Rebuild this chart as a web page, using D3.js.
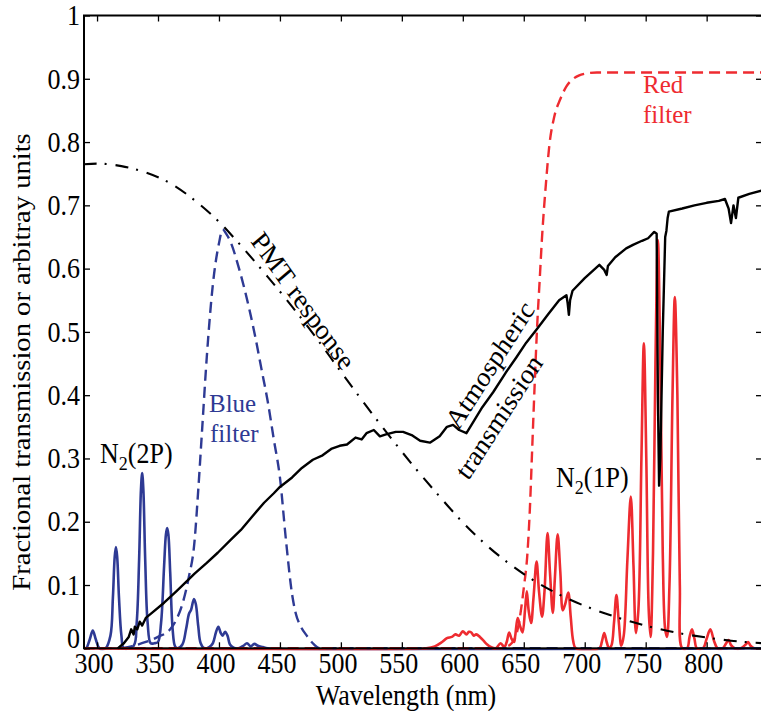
<!DOCTYPE html>
<html><head><meta charset="utf-8">
<script src="https://cdn.jsdelivr.net/npm/d3@7"></script>
<style>body{margin:0;background:#fff}svg{display:block}text{font-family:"Liberation Serif","Times New Roman",serif}</style>
</head><body>
<script>
// ---------- data ----------
const xTicks = [300,350,400,450,500,550,600,650,700,750,800];
const yTicks = [0,0.1,0.2,0.3,0.4,0.5,0.6,0.7,0.8,0.9,1];
const yTickLabels = ["0","0.1","0.2","0.3","0.4","0.5","0.6","0.7","0.8","0.9","1"];

const pmtNm  = [289,300,320,340,360,380,400,420,440,460,480,500,520,540,560,580,600,620,640,660,680,700,720,740,760,780,800,820,846];
const pmtVal = [0.765,0.766,0.762,0.752,0.735,0.708,0.674,0.632,0.587,0.54,0.49,0.437,0.385,0.335,0.287,0.242,0.199,0.162,0.131,0.105,0.084,0.067,0.053,0.041,0.031,0.023,0.017,0.012,0.008];

const blueFilterNm  = [320,330,340,350,360,365,370,375,380,383,386,390,395,400,403,406,410,415,420,425,430,435,440,445,450,455,460,463,467,472,477,483,500,846];
const blueFilterVal = [0,0.004,0.01,0.018,0.03,0.045,0.07,0.11,0.17,0.25,0.34,0.46,0.575,0.64,0.662,0.655,0.64,0.61,0.575,0.535,0.49,0.44,0.39,0.33,0.27,0.17,0.085,0.055,0.035,0.02,0.008,0,0,0];

const redFilterNm  = [289,630,635,640,645,650,653,655,657,659,661,663,665,668,671,675,680,685,690,695,700,710,846];
const redFilterVal = [0,0,0.002,0.008,0.03,0.095,0.15,0.22,0.32,0.42,0.51,0.58,0.65,0.73,0.795,0.84,0.868,0.888,0.899,0.905,0.908,0.91,0.91];

const atmNm  = [317,322,326,328,330,331,333,335,337,340,345,355,365,372,380,390,399,410,418,428,437,445,450,460,468,477,485,492,499,505,512,517,521,527,532,537,545,551,558,565,573,581,587,592,597,603,610,616,625,635,644,652,661,670,679,685,686,687,688,690,700,712,716,718,719,725,734,740,747,752,757,759,760,761,762,764,766,767,768,769,780,790,800,810,815,818,820,822,824,826,835,846];
const atmVal = [0,0.008,0.018,0.03,0.022,0.034,0.03,0.042,0.036,0.048,0.056,0.072,0.09,0.103,0.118,0.135,0.151,0.172,0.187,0.21,0.23,0.245,0.255,0.27,0.285,0.298,0.305,0.315,0.32,0.322,0.333,0.33,0.34,0.345,0.335,0.338,0.342,0.342,0.337,0.328,0.325,0.335,0.35,0.353,0.345,0.34,0.362,0.381,0.405,0.435,0.46,0.483,0.505,0.528,0.55,0.558,0.545,0.527,0.55,0.565,0.585,0.606,0.598,0.59,0.604,0.618,0.632,0.638,0.644,0.648,0.658,0.655,0.4,0.257,0.3,0.5,0.65,0.66,0.68,0.69,0.695,0.7,0.704,0.707,0.71,0.695,0.672,0.7,0.68,0.712,0.718,0.724];

const n2pNm  = [289,291,294,296.5,299,302,307,311,313,314.5,315.5,316.5,318,320,322,330,332.5,334.5,336,337,338,339.5,341.5,344,347,350,352.5,355,356.5,357.5,358.5,360,362,364,366,370,373,375.5,377,379.5,381,383,385,388,392,395,397.5,399.5,401.5,403,405,407,409,412,416,420,423,426,429,432,436,440,846];
const n2pVal = [0,0,0.014,0.028,0.014,0,0,0.02,0.08,0.145,0.16,0.145,0.08,0.02,0,0.004,0.04,0.14,0.25,0.277,0.25,0.14,0.04,0.008,0.008,0.01,0.04,0.13,0.18,0.19,0.18,0.12,0.03,0.003,0,0.006,0.03,0.055,0.06,0.078,0.07,0.035,0.008,0,0.002,0.008,0.025,0.034,0.024,0.02,0.026,0.02,0.006,0.001,0,0.004,0.008,0.003,0.007,0.004,0.002,0,0];

const n1pNm  = [289,570,577,583,587,591,594,597,600,603,605,607,609,611,614,617,620,623,627,631,634,636,638,640,642,643,645,647,649,651,652.5,654,656,658,660.5,662.5,665,667,669.5,671.5,673.8,675.5,677.8,680,682,684,686.5,688.5,690.5,692.7,712,714,716,718,720,722,724,726,728,730,732,735,737.8,740,742,744,746.5,748.5,750.5,752.5,754,756,758,760,762,764,766,767.5,769.5,772,773.9,776,778,780,784,786,788,790,792,797,800,803,806,809,813,816,818,820,823,828,832,834,836,839,846];
const n1pVal = [0,0,0.003,0.01,0.016,0.018,0.022,0.02,0.027,0.022,0.026,0.025,0.02,0.022,0.018,0.012,0.006,0.002,0,0.008,0.002,0.01,0.025,0.015,0.01,0.02,0.048,0.035,0.025,0.06,0.09,0.06,0.04,0.08,0.137,0.09,0.05,0.09,0.182,0.12,0.056,0.11,0.18,0.12,0.06,0.07,0.088,0.05,0.012,0,0,0.01,0.024,0.01,0,0.005,0.04,0.084,0.04,0.004,0.02,0.14,0.24,0.13,0.024,0.06,0.3,0.482,0.3,0.06,0.018,0.15,0.45,0.645,0.45,0.15,0.03,0.018,0.1,0.4,0.555,0.4,0.1,0,0,0.018,0.03,0.015,0,0,0.015,0.03,0.012,0,0,0.008,0.013,0.005,0,0,0.006,0.01,0.004,0,0];

// ---------- layout ----------
const W = 761, H = 711;
const L = 84, R = 762, T = 15.5, B = 648.3;
const BLUE = "#2e3a94", RED = "#ee2b30";
const FS = 26, SY = 1.1;

const svg = d3.select("body").append("svg").attr("width", W).attr("height", H);
const x = d3.scaleLinear().domain([289.3, 845.4]).range([L, R]);
const y = d3.scaleLinear().domain([0, 1]).range([B, T]);

svg.append("clipPath").attr("id","c").append("rect")
  .attr("x", L).attr("y", T - 2).attr("width", R - L).attr("height", B - T + 4);
const g = svg.append("g").attr("clip-path","url(#c)");

function zip(a, b){ return a.map((d,i)=>[d,b[i]]); }
const lineSpec = d3.line().x(d=>x(d[0])).y(d=>y(d[1])).curve(d3.curveCatmullRom.alpha(0.5));
const lineMono = d3.line().x(d=>x(d[0])).y(d=>y(d[1])).curve(d3.curveMonotoneX);
const lineLin  = d3.line().x(d=>x(d[0])).y(d=>y(d[1]));

g.append("path").attr("d", lineSpec(zip(n2pNm, n2pVal))).attr("fill","none").attr("stroke",BLUE).attr("stroke-width",2.6);
g.append("path").attr("d", lineSpec(zip(n1pNm, n1pVal))).attr("fill","none").attr("stroke",RED).attr("stroke-width",2.6);
g.append("path").attr("d", lineMono(zip(blueFilterNm, blueFilterVal))).attr("fill","none").attr("stroke",BLUE).attr("stroke-width",2.4).attr("stroke-dasharray","11,6");
g.append("path").attr("d", lineMono(zip(redFilterNm, redFilterVal))).attr("fill","none").attr("stroke",RED).attr("stroke-width",2.4).attr("stroke-dasharray","11,6");
g.append("path").attr("d", lineMono(zip(pmtNm, pmtVal))).attr("fill","none").attr("stroke","#000").attr("stroke-width",2.1).attr("stroke-dasharray","13,8,2,9");
g.append("path").attr("d", lineLin(zip(atmNm, atmVal))).attr("fill","none").attr("stroke","#000").attr("stroke-width",2.4).attr("stroke-linejoin","round");

// ---------- axes (ticks inward on all sides) ----------
const axB = svg.append("g").attr("transform",`translate(0,${B})`).call(d3.axisBottom(x).tickValues(xTicks).tickSize(-6).tickFormat(""));
const axT = svg.append("g").attr("transform",`translate(0,${T})`).call(d3.axisTop(x).tickValues(xTicks).tickSize(-6).tickFormat(""));
const axL = svg.append("g").attr("transform",`translate(${L},0)`).call(d3.axisLeft(y).tickValues(yTicks).tickSize(-6).tickFormat(""));
const axR = svg.append("g").attr("transform",`translate(${R},0)`).call(d3.axisRight(y).tickValues(yTicks).tickSize(-6).tickFormat(""));
[axB,axT,axL,axR].forEach(a=>{
  a.select(".domain").remove();
  a.selectAll(".tick line").attr("stroke","#000").attr("stroke-width",1.3);
});
svg.append("rect").attr("x",L).attr("y",T).attr("width",R-L).attr("height",B-T)
  .attr("fill","none").attr("stroke","#000").attr("stroke-width",2);

// tick labels (slightly tall glyphs as in the reference)
svg.append("g").selectAll("text").data(xTicks).join("text")
  .attr("transform", d=>`translate(${x(d)-3},673) scale(1,${SY})`)
  .attr("text-anchor","middle").attr("font-size",26).text(d=>d);
svg.append("g").selectAll("text").data(yTicks).join("text")
  .attr("transform", d=>`translate(80,${d === 0 ? y(d) - 10 : y(d)}) scale(1,${SY})`)
  .attr("text-anchor","end").attr("dy","0.34em").attr("font-size",26).text((d,i)=>yTickLabels[i]);

// axis titles
svg.append("text").attr("transform",`translate(406,705) scale(1,${SY})`).attr("text-anchor","middle").attr("font-size",FS).text("Wavelength (nm)");
svg.append("text").attr("transform",`translate(30,362) scale(1,${SY}) rotate(-90)`).attr("text-anchor","middle").attr("font-size",FS)
  .text("Fractional transmission or arbitray units");

// ---------- annotations ----------
function txt(px, py, s, color, rot){
  return svg.append("text").attr("transform",`translate(${px},${py}) scale(1,${SY})` + (rot ? ` rotate(${rot})` : ""))
    .attr("font-size",FS).attr("fill",color || "#000").text(s);
}
function stacked(px, py, s, color){
  return svg.append("text").attr("transform",`translate(${px},${py}) scale(1,1.04)`)
    .attr("font-size",25).attr("fill",color).text(s);
}
function n2label(px, py, band){
  const t = svg.append("text").attr("transform",`translate(${px},${py}) scale(1,${SY})`).attr("font-size",FS);
  t.append("tspan").text("N");
  t.append("tspan").attr("font-size",18).attr("dy",6).text("2");
  t.append("tspan").attr("dy",-6).text("(" + band + ")");
}
n2label(100, 463, "2P");
n2label(556, 487, "1P");

stacked(209, 412, "Blue", BLUE);
stacked(210, 442, "filter", BLUE);
stacked(643, 93, "Red", RED);
stacked(643, 123, "filter", RED);

txt(303, 301, "PMT response", "#000", 52).attr("text-anchor","middle").attr("dominant-baseline","central");
txt(490, 365, "Atmospheric", "#000", -55).attr("text-anchor","middle").attr("dominant-baseline","central");
txt(499, 417, "transmission", "#000", -55).attr("text-anchor","middle").attr("dominant-baseline","central");
</script>
</body></html>
